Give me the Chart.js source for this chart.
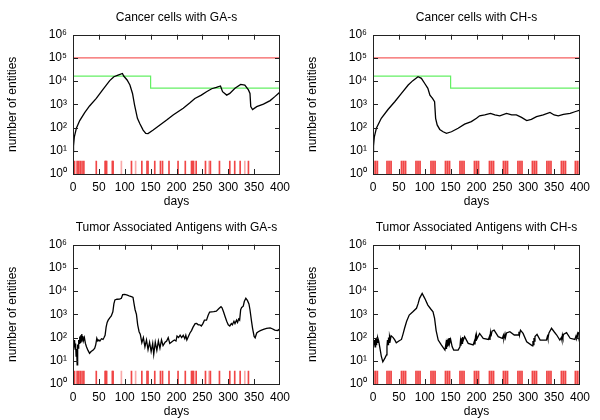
<!DOCTYPE html>
<html>
<head>
<meta charset="utf-8">
<script src="https://cdn.jsdelivr.net/npm/chart.js@4.4.1/dist/chart.umd.min.js"></script>
<style>
  body { margin: 0; background: #fff; }
  #wrap { position: relative; width: 600px; height: 420px; }
  .panel { position: absolute; width: 300px; height: 210px; }
</style>
</head>
<body>
<div id="wrap">
  <div class="panel" style="left:0;top:0"><canvas id="ccGA" width="300" height="210"></canvas></div>
  <div class="panel" style="left:300px;top:0"><canvas id="ccCH" width="300" height="210"></canvas></div>
  <div class="panel" style="left:0;top:210px"><canvas id="taaGA" width="300" height="210"></canvas></div>
  <div class="panel" style="left:300px;top:210px"><canvas id="taaCH" width="300" height="210"></canvas></div>
</div>
<script>
// axis ticks
var xTicks = [0, 50, 100, 150, 200, 250, 300, 350, 400];
var yTicks = [1, 10, 100, 1000, 10000, 100000, 1000000];
var supDigits = ['\u2070', '\u00b9', '\u00b2', '\u00b3', '\u2074', '\u2075', '\u2076'];

// threshold lines (cancer cell panels)
var redDays = [0, 400];
var redVals = [100000, 100000];
var greenDays = [0, 150, 150, 400];
var greenVals = [16500, 16500, 5000, 5000];

// injection days (impulses from 1 up to eventTop)
var eventTop = 3.6;
var gaEvents = [3, 8, 11, 14, 17.5, 21, 45, 62, 63.5, 65, 76, 77.5, 113, 133, 143, 145, 158, 169, 173, 185.5,
  203, 217, 229, 231, 233, 238, 256, 265.5, 283, 303, 312.5, 323, 339];
var gaEventsFaint = [93.5, 121, 263, 332];
var chEvents = [0.5, 4.5, 8.5, 27, 31, 35, 55, 59, 63, 83, 87, 91, 112, 116, 120, 140, 144, 148, 168, 172, 176,
  196, 200, 204, 225, 229, 233, 252, 256, 260, 280, 284, 288, 308, 312, 316, 336, 340, 344, 364, 368, 372, 391, 395, 399.5];
var chEventsFaint = [2.5, 6.5, 29, 33, 57, 61, 85, 89, 114, 118, 142, 146, 170, 174, 198, 202, 227, 231, 254, 258,
  282, 286, 310, 314, 338, 342, 366, 370, 393, 397];

// Cancer cells with GA-s
var ccGADays = [0, 1, 2.6, 6.5, 13, 22.6, 32, 45, 58, 71, 79, 87, 95.5, 98, 104.5, 110, 115, 119, 124.5, 129,
  135.5, 140.6, 145, 155, 168, 181, 193.5, 213, 226, 235.5, 248, 258, 268, 277, 285, 289, 297, 303, 313, 324,
  332, 339, 342, 343.5, 347, 355, 368, 381, 390, 400];
var ccGAVals = [9, 16, 40, 93, 200, 440, 850, 1800, 4400, 10500, 15500, 18200, 21400, 16600, 11200, 6800, 2950, 930, 250, 150,
  78, 56, 55, 78, 130, 210, 350, 680, 1170, 1800, 2500, 3500, 4700, 5400, 6200, 3500, 2500, 2950, 4900, 7200,
  6800, 4200, 2950, 800, 600, 800, 1020, 1450, 2150, 3400];

// Cancer cells with CH-s
var ccCHDays = [0, 1, 2.6, 6.5, 16, 29, 42, 55, 68, 77, 87, 93.5, 100, 106, 110, 115, 119, 121, 124, 129,
  135.5, 142, 151.6, 164.5, 177, 190, 200, 206, 216, 227, 235.5, 245, 258, 268, 277, 287, 297, 306, 316, 329,
  342, 350, 358, 368, 381, 390, 400];
var ccCHVals = [9, 16, 40, 93, 250, 600, 1290, 2950, 6800, 10500, 15500, 13200, 7900, 4900, 2500, 1800, 1290, 250, 130, 83,
  66, 56, 66, 93, 140, 180, 250, 320, 350, 410, 350, 320, 410, 350, 350, 275, 200, 225, 295, 350,
  450, 350, 320, 370, 410, 480, 560];

// Tumor Associated Antigens with GA-s
var taaGADays = [0, 1, 2, 3, 4, 5, 6, 7, 8, 9, 10, 11, 12, 13, 14, 15, 16, 17, 18, 19, 20, 22, 24, 26, 29, 32, 35, 39,
  42, 44, 46, 48, 50, 52, 55, 58, 60, 62, 64, 66, 68, 71, 74, 77, 79, 81, 85, 90, 93.5, 96, 100, 105, 110, 114, 116,
  118, 120, 122.6, 125, 127.7,
  130, 133, 136, 139, 142, 145, 148, 151, 154, 156, 159, 162, 165, 168, 171, 174, 178, 181, 184, 187, 190,
  193, 196, 199, 201, 204, 207, 210, 213, 216, 218,
  220, 223, 226, 229, 232, 236, 239, 242, 245, 248, 251, 254, 258, 261, 264, 268, 272, 277, 282, 286, 288, 291, 294,
  297, 300, 303, 306, 308, 311, 313, 316, 318, 320, 322, 324, 326, 329, 331, 334, 337, 340, 342, 345, 347, 350, 352,
  355, 358, 362, 368, 374, 381, 385, 390, 395, 398, 400];
var taaGAVals = [100, 100, 40, 79, 32, 56, 16, 32, 6.6, 50, 35, 79, 56, 112, 63, 126, 71, 141, 79, 117, 71, 100, 56, 40, 28, 21, 25, 29,
  35, 50, 93, 71, 79, 71, 89, 83, 100, 126, 282, 447, 562, 708, 851, 1290, 2820, 4170, 4470, 4570, 4900, 7080, 7240, 6760, 6030, 5620, 5370,
  2820, 1580, 1000, 355, 178,
  141, 60, 100, 40, 79, 30, 63, 25, 56, 19, 63, 28, 71, 35, 79, 45, 63, 71, 100, 56, 63,
  71, 79, 71, 117, 100, 126, 100, 126, 89, 126,
  79, 112, 158, 200, 282, 398, 407, 355, 355, 316, 398, 562, 562, 891, 1260, 1290, 1320, 1380, 1780, 2140, 1910, 1260, 794,
  501, 355, 316, 398, 355, 501, 398, 562, 447, 631, 562, 1580, 2000, 2240, 3550, 4900, 3980, 2820, 1580, 501, 251, 112, 98,
  158, 178, 200, 224, 251, 263, 240, 209, 200, 224, 166];

// Tumor Associated Antigens with CH-s
var taaCHDays = [0, 2, 3, 4, 5, 6, 7, 8, 9, 11, 13, 16, 19, 23, 26, 27, 28, 29, 30, 31, 32, 33.5, 35, 39, 42, 45, 50, 55,
  58, 61, 65, 70, 77, 84, 87, 90, 95, 100, 106, 112, 116, 119, 122, 126, 132, 139, 141, 142, 143, 144, 145, 146, 147,
  148, 150, 153, 156, 164.5, 168, 169, 170, 171, 172, 173, 174, 177, 184, 193.5, 196, 197, 198, 199, 200, 201, 206,
  213, 223, 225, 226, 227, 228, 230, 234, 242, 250, 252, 253, 255, 256, 258, 264.5, 273, 281, 282, 283, 285, 290,
  297, 308, 309, 310, 311, 312, 313, 317, 323, 335, 337, 338, 340, 345, 350, 355, 361, 364, 365, 366, 367, 368, 374,
  381, 390, 392, 393, 395, 396, 397, 400];
var taaCHVals = [40, 56, 79, 40, 89, 50, 100, 63, 100, 71, 40, 16, 9, 13, 18, 40, 79, 50, 100, 63, 112, 79, 120, 100, 79, 60, 71, 83,
  141, 251, 501, 933, 1290, 1820, 2820, 4900, 7940, 4900, 2510, 1660, 1290, 676, 200, 78, 48, 29, 56, 32, 79, 40, 89, 45, 95,
  56, 83, 40, 29, 29, 40, 71, 45, 93, 56, 105, 71, 110, 56, 48, 71, 50, 100, 71, 126, 89, 151,
  93, 83, 112, 79, 158, 112, 190, 209, 110, 93, 126, 89, 141, 100, 158, 178, 129, 129, 178, 126, 209, 151,
  66, 44, 71, 50, 95, 71, 110, 138, 78, 78, 112, 89, 158, 251, 178, 129, 78, 100, 79, 126, 100, 138, 162,
  93, 83, 112, 89, 141, 112, 158, 178];

function pts(days, vals) {
  return days.map(function (d, i) { return { x: d, y: vals[i] }; });
}
function bars(days) {
  return days.map(function (d) { return { x: d, y: [1, eventTop] }; });
}

// frame + inward gnuplot style ticks on all four sides
var frameTicks = {
  id: 'frameTicks',
  afterDatasetsDraw: function (chart) {
    var a = chart.chartArea, ctx = chart.ctx, xs = chart.scales.x, ys = chart.scales.y;
    ctx.save();
    ctx.strokeStyle = '#222';
    ctx.lineWidth = 1;
    ctx.beginPath();
    xTicks.forEach(function (v) {
      if (v <= xs.min || v >= xs.max) return;
      var px = Math.round(xs.getPixelForValue(v)) + 0.5;
      ctx.moveTo(px, a.bottom); ctx.lineTo(px, a.bottom - 5);
      ctx.moveTo(px, a.top); ctx.lineTo(px, a.top + 5);
    });
    yTicks.forEach(function (v) {
      if (v <= ys.min || v >= ys.max) return;
      var py = Math.round(ys.getPixelForValue(v)) + 0.5;
      ctx.moveTo(a.left, py); ctx.lineTo(a.left + 5, py);
      ctx.moveTo(a.right, py); ctx.lineTo(a.right - 5, py);
    });
    ctx.stroke();
    ctx.strokeRect(Math.round(a.left) + 0.5, Math.round(a.top) + 0.5,
      Math.round(a.right - a.left) - 1, Math.round(a.bottom - a.top));
    ctx.restore();
  }
};

function makeChart(id, title, days, vals, events, eventsFaint, thresholds) {
  var datasets = [{
    type: 'line', data: pts(days, vals), borderColor: '#000', borderWidth: 1.3,
    pointRadius: 0, tension: 0, order: 0
  }];
  if (thresholds) {
    datasets.push({ type: 'line', data: pts(redDays, redVals), borderColor: 'rgb(245,95,95)', borderWidth: 1.2, pointRadius: 0, order: 1 });
    datasets.push({ type: 'line', data: pts(greenDays, greenVals), borderColor: 'rgb(100,240,100)', borderWidth: 1.2, pointRadius: 0, order: 1 });
  }
  datasets.push({ type: 'bar', data: bars(events), backgroundColor: 'rgb(240,70,70)', barThickness: 1, grouped: false, order: 2 });
  datasets.push({ type: 'bar', data: bars(eventsFaint), backgroundColor: 'rgb(250,170,170)', barThickness: 1, grouped: false, order: 3 });

  return new Chart(document.getElementById(id), {
    type: 'line',
    data: { datasets: datasets },
    options: {
      responsive: false,
      animation: false,
      layout: { padding: { left: 0, right: 20, top: 0, bottom: 0 } },
      plugins: {
        legend: { display: false },
        tooltip: { enabled: false },
        title: {
          display: true, text: title, color: '#000', fullSize: false,
          font: { family: 'Liberation Sans', size: 12, weight: 'normal' },
          padding: { top: 10, bottom: 10.3 }
        }
      },
      scales: {
        x: {
          type: 'linear', min: 0, max: 400, offset: false,
          grid: { display: false, drawTicks: false },
          border: { display: false },
          afterBuildTicks: function (s) { s.ticks = xTicks.map(function (v) { return { value: v }; }); },
          afterFit: function (s) { s.height = 36; },
          ticks: { color: '#000', padding: 6, maxRotation: 0, autoSkip: false,
            font: { family: 'Liberation Sans', size: 12 } },
          title: { display: true, text: 'days', color: '#000', padding: { top: 0, bottom: 1 },
            font: { family: 'Liberation Sans', size: 12 } }
        },
        y: {
          type: 'logarithmic', min: 1, max: 1000000,
          grid: { display: false, drawTicks: false },
          border: { display: false },
          afterBuildTicks: function (s) { s.ticks = yTicks.map(function (v) { return { value: v }; }); },
          afterFit: function (s) { s.width = 73; },
          ticks: { color: '#000', padding: 6, autoSkip: false,
            font: { family: 'Liberation Sans', size: 12 },
            callback: function (v) { return '10' + supDigits[Math.round(Math.log10(v))]; } },
          title: { display: true, text: 'number of entities', color: '#000', padding: { top: 5, bottom: 0 },
            font: { family: 'Liberation Sans', size: 12 } }
        }
      }
    },
    plugins: [frameTicks]
  });
}

makeChart('ccGA', 'Cancer cells with GA-s', ccGADays, ccGAVals, gaEvents, gaEventsFaint, true);
makeChart('ccCH', 'Cancer cells with CH-s', ccCHDays, ccCHVals, chEvents, chEventsFaint, true);
makeChart('taaGA', 'Tumor Associated Antigens with GA-s', taaGADays, taaGAVals, gaEvents, gaEventsFaint, false);
makeChart('taaCH', 'Tumor Associated Antigens with CH-s', taaCHDays, taaCHVals, chEvents, chEventsFaint, false);
</script>
</body>
</html>
